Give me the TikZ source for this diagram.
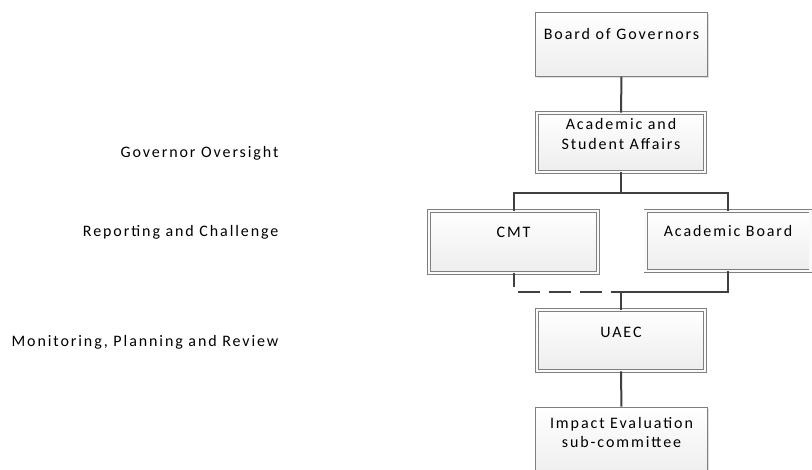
\documentclass[tikz,border=0pt]{standalone}
\usepackage{fontspec}
\setmainfont{Carlito}[LetterSpace=12]
\usepackage{tikz}
\usepackage{xcolor}
\usetikzlibrary{shadows}
\definecolor{boxline}{HTML}{7F7F7F}
\definecolor{linkline}{HTML}{404040}

\begin{document}
\begin{tikzpicture}[x=1pt,y=-1pt,font=\fontsize{16}{20}\selectfont,
                    main node/.style={rectangle,draw=boxline,line width=0.8pt,
                      top color=white,bottom color=gray!14,
                      drop shadow={shadow xshift=1.5pt,shadow yshift=-2pt,opacity=0.25},
                      align=center,inner sep=2pt,text height=10pt},
                    double node/.style={main node,double=white!96!gray,double distance=2.4pt},
                    link/.style={draw=linkline,line width=2pt}]
  \useasboundingbox (0,0) rectangle (812,470);

  \node[main node,minimum width=172pt,minimum height=64pt,text depth=19pt] (1) at (621.5,44.5) {Board of Governors};
  \node[double node,minimum width=168pt,minimum height=59pt,text height=30pt,text depth=15pt] (2) at (621,142.5) {Academic and\\Student Affairs};
  \node[double node,minimum width=169pt,minimum height=62pt,text depth=18pt] (3) at (513.5,242) {CMT};
  \node[double node,minimum width=165pt,minimum height=60pt,text depth=18pt] (4) at (728,241) {Academic Board};
  \node[double node,minimum width=168pt,minimum height=61pt,text depth=15pt] (5) at (621,340.5) {UAEC};
  \node[main node,minimum width=172pt,minimum height=70pt,text height=30pt,text depth=18pt] (6) at (621.5,442) {Impact Evaluation\\sub-committee};

  % level labels on the left
  \node[anchor=base east] (7) at (282,158) {Governor Oversight};
  \node[anchor=base east] (8) at (282,237) {Reporting and Challenge};
  \node[anchor=base east] (9) at (282,347) {Monitoring, Planning and Review};

  \coordinate (bus) at (621,193);
  \coordinate (merge) at (621,292);

  \path[link]
    (1) edge (2)
    (merge) edge (5)
    (5) edge (6);
  \draw[link] (2) -- (bus) -| (3);
  \draw[link] (bus) -| (4);
  \draw[link,dash pattern=on 22pt off 9pt,dash phase=8pt] (3) |- (merge);
  \draw[link] (4) |- (merge);
\end{tikzpicture}
\end{document}
